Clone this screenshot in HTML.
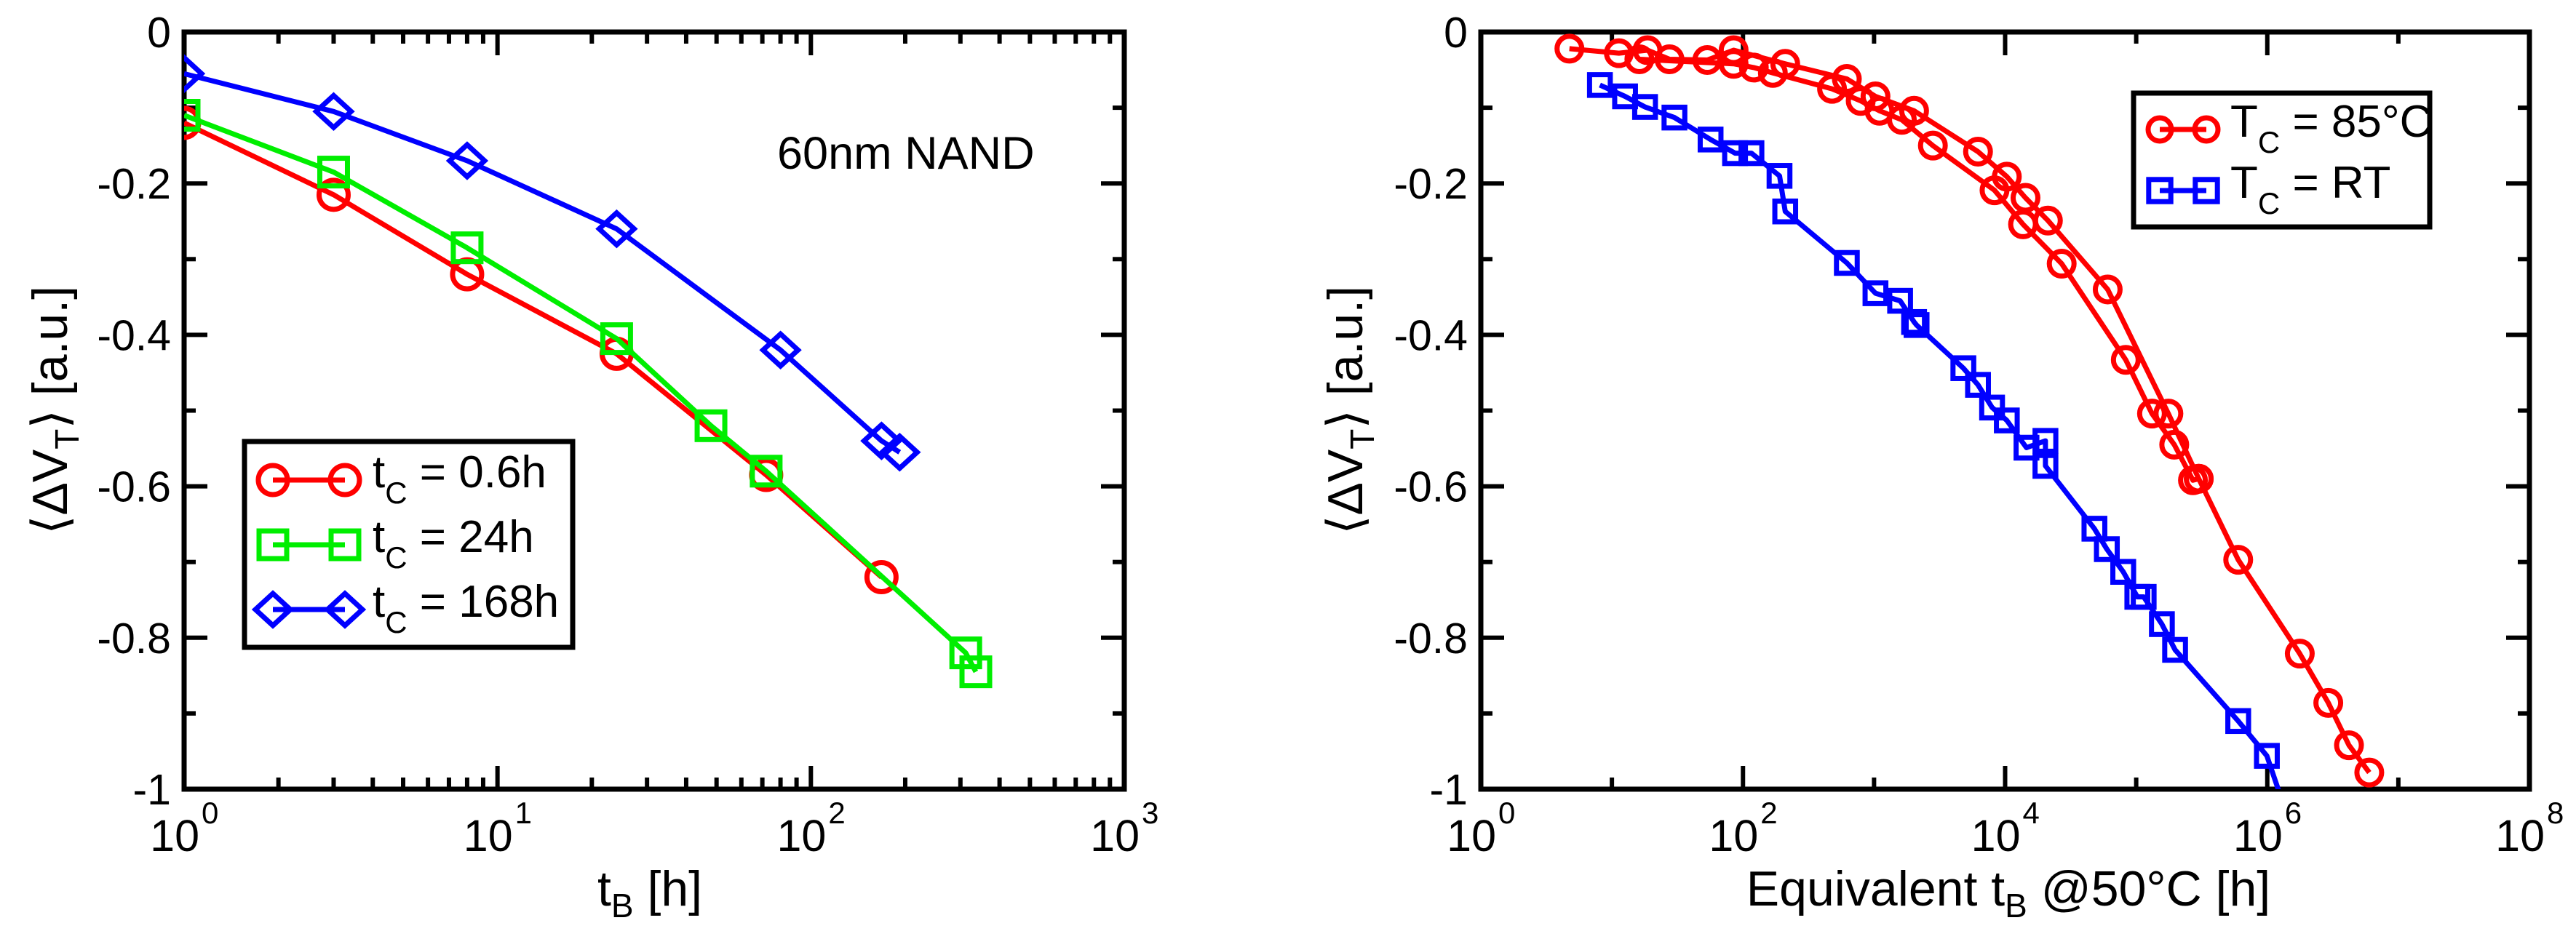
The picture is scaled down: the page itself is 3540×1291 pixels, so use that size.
<!DOCTYPE html>
<html><head><meta charset="utf-8"><style>
html,body{margin:0;padding:0;background:#fff;overflow:hidden;}
svg{display:block;font-family:"Liberation Sans",sans-serif;}
</style></head><body>
<svg id="fig" width="3540" height="1291" viewBox="0 0 3540 1291" xmlns="http://www.w3.org/2000/svg">
<defs>
<clipPath id="clipL"><rect x="253" y="44" width="1292" height="1041"/></clipPath>
<clipPath id="clipR"><rect x="2035" y="44" width="1441" height="1041"/></clipPath>
</defs>
<text x="1068" y="232" font-size="63">60nm NAND</text>
<text x="893" y="1245" font-size="68" text-anchor="middle">t<tspan font-size="46" dy="16">B</tspan><tspan dy="-16"> [h]</tspan></text>
<text x="2760" y="1245" font-size="68" text-anchor="middle">Equivalent t<tspan font-size="46" dy="16">B</tspan><tspan dy="-16"> @50°C [h]</tspan></text>
<text transform="translate(92,564) rotate(-90)" font-size="68" text-anchor="middle">⟨ΔV<tspan font-size="46" dy="16">T</tspan><tspan dy="-16">⟩ [a.u.]</tspan></text>
<text transform="translate(1872,564) rotate(-90)" font-size="68" text-anchor="middle">⟨ΔV<tspan font-size="46" dy="16">T</tspan><tspan dy="-16">⟩ [a.u.]</tspan></text>
</svg>
<script>
// ---- Left chart data ----
const leftRedX = [1, 3, 8, 24, 72, 168];
const leftRedY = [-0.12, -0.215, -0.32, -0.425, -0.585, -0.72];
const leftGreenX = [1, 3, 8, 24, 48, 72, 312, 336];
const leftGreenY = [-0.11, -0.185, -0.285, -0.405, -0.52, -0.58, -0.82, -0.845];
const leftBlueX = [1, 3, 8, 24, 80, 168, 192];
const leftBlueY = [-0.055, -0.105, -0.17, -0.26, -0.42, -0.54, -0.555];
const leftLegend = ["0.6h", "24h", "168h"];
const leftXTickExp = [0, 1, 2, 3];
const yTickLabels = ["0", "-0.2", "-0.4", "-0.6", "-0.8", "-1"];
const yTickValues = [0, -0.2, -0.4, -0.6, -0.8, -1];

// ---- Right chart data ----
const rightRedAX = [4.74, 11.3, 18.7, 27.5, 53.4, 84.8, 210, 620, 1025, 2020, 6210, 10300, 14300, 21200, 60600, 176000, 300000, 600000, 1.77e6, 2.92e6, 4.2e6, 6.0e6];
const rightRedAY = [-0.022, -0.028, -0.024, -0.036, -0.037, -0.024, -0.042, -0.062, -0.085, -0.104, -0.158, -0.191, -0.219, -0.249, -0.340, -0.504, -0.590, -0.697, -0.821, -0.886, -0.942, -0.978];
const rightRedBX = [16.2, 84.8, 121, 169, 478, 791, 1100, 1630, 2810, 8300, 13700, 27000, 83300, 132000, 195000, 271000, 300000];
const rightRedBY = [-0.036, -0.042, -0.047, -0.054, -0.075, -0.091, -0.104, -0.116, -0.150, -0.209, -0.254, -0.306, -0.433, -0.504, -0.545, -0.592, -0.590];
const rightBlueX = [8.1, 12.6, 17.9, 30, 56.6, 87, 116, 190, 210, 620, 1025, 1580, 2020, 2110, 4800, 6210, 7950, 10300, 14550, 20300, 20300, 48000, 59700, 79600, 102000, 114000, 157000, 198000, 600000, 993000, 1.45e6];
const rightBlueY = [-0.070, -0.085, -0.099, -0.113, -0.142, -0.160, -0.160, -0.190, -0.237, -0.305, -0.345, -0.355, -0.383, -0.387, -0.444, -0.466, -0.496, -0.513, -0.549, -0.540, -0.573, -0.656, -0.683, -0.713, -0.746, -0.746, -0.782, -0.816, -0.910, -0.956, -1.04];
const rightLegend = ["85°C", "RT"];
const rightXTickExp = [0, 2, 4, 6, 8];

const NS = "http://www.w3.org/2000/svg";
const svg = document.getElementById('fig');
function mk(tag, attrs, parent) {
  const e = document.createElementNS(NS, tag);
  for (const k in attrs) e.setAttribute(k, attrs[k]);
  (parent || svg).appendChild(e);
  return e;
}
const T0 = 44, B0 = 1085;

function makeAxes(L, R, lx0, lx1, decadeStep, xExp, name) {
  const T = T0, B = B0;
  const sx = v => L + (Math.log10(v) - lx0) / (lx1 - lx0) * (R - L);
  const sy = v => T + (0 - v) * (B - T);
  const g = mk('g', {});
  
  
  for (let i = 0; i <= 10; i++) {
    const y = sy(-i / 10), len = i % 2 === 0 ? 32 : 16;
    mk('line', {x1: L, x2: L + len, y1: y, y2: y, stroke: '#000', 'stroke-width': 6}, g);
    mk('line', {x1: R, x2: R - len, y1: y, y2: y, stroke: '#000', 'stroke-width': 6}, g);
  }
  yTickValues.forEach((v, i) => {
    const t = mk('text', {x: L - 18, y: sy(v) + 21, 'text-anchor': 'end', 'font-size': 59}, g);
    t.textContent = yTickLabels[i];
    
    
  });
  for (let d = lx0; d < lx1; d++) {
    const major = (d - lx0) % decadeStep === 0;
    if (decadeStep === 1) {
      for (let m = 2; m <= 9; m++) {
        const x = sx(m * Math.pow(10, d));
        mk('line', {x1: x, x2: x, y1: B, y2: B - 16, stroke: '#000', 'stroke-width': 6}, g);
        mk('line', {x1: x, x2: x, y1: T, y2: T + 16, stroke: '#000', 'stroke-width': 6}, g);
      }
    }
    const x = sx(Math.pow(10, d)), len = major ? 32 : 16;
    mk('line', {x1: x, x2: x, y1: B, y2: B - len, stroke: '#000', 'stroke-width': 6}, g);
    mk('line', {x1: x, x2: x, y1: T, y2: T + len, stroke: '#000', 'stroke-width': 6}, g);
  }
  xExp.forEach(e => {
    const x = sx(Math.pow(10, e));
    const t = mk('text', {x: x + 21, y: 1170, 'text-anchor': 'end', 'font-size': 61}, g);
    t.textContent = '10';
    
    
    const s = mk('text', {x: x + 24, y: 1132, 'text-anchor': 'start', 'font-size': 42}, g);
    s.textContent = e;
  });
  mk('rect', {x: L, y: T, width: R - L, height: B - T, fill: 'none', stroke: '#000', 'stroke-width': 7}, g);
  return {sx, sy};
}

function drawMarker(g, x, y, color, shape, r) {
  let m;
  if (shape === 'circle') m = mk('circle', {cx: x, cy: y, r: r, fill: 'none', stroke: color, 'stroke-width': 7}, g);
  else if (shape === 'square') m = mk('rect', {x: x - r * 0.95, y: y - r * 0.95, width: r * 1.9, height: r * 1.9, fill: 'none', stroke: color, 'stroke-width': 7}, g);
  else m = mk('polygon', {points: `${x},${y - r * 1.1} ${x + r * 1.2},${y} ${x},${y + r * 1.1} ${x - r * 1.2},${y}`, fill: 'none', stroke: color, 'stroke-width': 7}, g);
  
  
}
function drawSeries(ax, xs, ys, color, shape, clip, name, r) {
  const g = mk('g', {'clip-path': 'url(#' + clip + ')'});
  
  
  const pts = xs.map((x, i) => ax.sx(x).toFixed(1) + ',' + ax.sy(ys[i]).toFixed(1)).join(' ');
  mk('polyline', {points: pts, fill: 'none', stroke: color, 'stroke-width': 7, 'stroke-linejoin': 'round'}, g);
  xs.forEach((x, i) => drawMarker(g, ax.sx(x), ax.sy(ys[i]), color, shape, r));
}

const axL = makeAxes(253, 1545, 0, 3, 1, leftXTickExp, 'left');
drawSeries(axL, leftRedX, leftRedY, '#ff0000', 'circle', 'clipL', 'series-tc-0-6h', 20);
drawSeries(axL, leftGreenX, leftGreenY, '#00ee00', 'square', 'clipL', 'series-tc-24h', 20);
drawSeries(axL, leftBlueX, leftBlueY, '#0000ff', 'diamond', 'clipL', 'series-tc-168h', 20);

const axR = makeAxes(2035, 3476, 0, 8, 2, rightXTickExp, 'right');
drawSeries(axR, rightRedAX, rightRedAY, '#ff0000', 'circle', 'clipR', 'series-85c-a', 17);
drawSeries(axR, rightRedBX, rightRedBY, '#ff0000', 'circle', 'clipR', 'series-85c-b', 17);
drawSeries(axR, rightBlueX, rightBlueY, '#0000ff', 'square', 'clipR', 'series-rt', 15);

function legend(x0, y0, w, h, entries, colors, shapes, sym, mx1, mx2, tx, ys, r, fs, name) {
  const g = mk('g', {});
  
  
  mk('rect', {x: x0, y: y0, width: w, height: h, fill: '#fff', stroke: '#000', 'stroke-width': 7}, g);
  entries.forEach((e, i) => {
    const y = ys[i];
    const eg = mk('g', {}, g);
    
    
    mk('line', {x1: mx1, x2: mx2, y1: y, y2: y, stroke: colors[i], 'stroke-width': 7}, eg);
    drawMarker(eg, mx1, y, colors[i], shapes[i], r);
    drawMarker(eg, mx2, y, colors[i], shapes[i], r);
    const t = mk('text', {x: tx, y: y + 10, 'font-size': fs}, eg);
    t.innerHTML = `${sym}<tspan font-size="${Math.round(fs * 0.68)}" dy="22">C</tspan><tspan dy="-22"> = ${e}</tspan>`;
  });
}
legend(336, 607, 451, 283, leftLegend, ['#ff0000', '#00ee00', '#0000ff'], ['circle', 'square', 'diamond'], 't', 375, 474, 512, [660, 749, 838], 20, 62, 'left-legend');
legend(2932, 128, 407, 184, rightLegend, ['#ff0000', '#0000ff'], ['circle', 'square'], 'T', 2968, 3032, 3065, [178, 262], 16, 62, 'right-legend');
</script>
</body></html>
